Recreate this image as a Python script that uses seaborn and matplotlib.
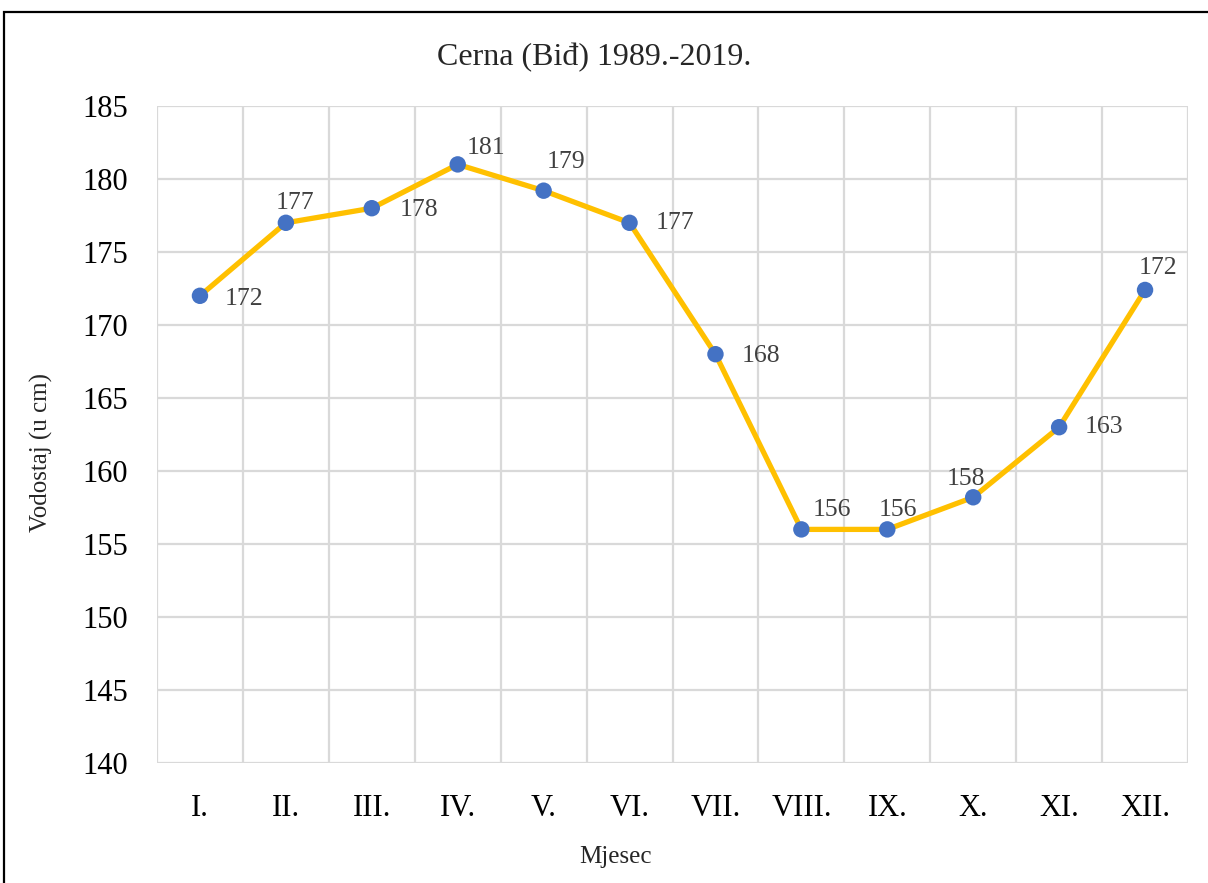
import matplotlib
matplotlib.use("Agg")
import matplotlib.pyplot as plt
import seaborn as sns
import pandas as pd
from matplotlib.patches import Rectangle

# ---- data ----
months = ["I.", "II.", "III.", "IV.", "V.", "VI.", "VII.", "VIII.", "IX.", "X.", "XI.", "XII."]
levels = [172, 177, 178, 181, 179.2, 177, 168, 156, 156, 158.2, 163, 172.4]
labels = ["172", "177", "178", "181", "179", "177", "168", "156", "156", "158", "163", "172"]
yticks = [140, 145, 150, 155, 160, 165, 170, 175, 180, 185]

title = "Cerna (Biđ) 1989.-2019."
xlabel = "Mjesec"
ylabel = "Vodostaj (u cm)"

# label offsets in points (style only)
label_offsets = [(32, -2), (6.5, 14), (34, -1.5), (20, 11.5), (16, 21), (33, 0),
                 (33, -1), (22, 14), (8, 14), (-5, 13), (32, 0), (9, 16)]

sns.set_theme(style="white")
plt.rcParams["font.family"] = ["Liberation Serif", "DejaVu Serif"]

df = pd.DataFrame({"pos": range(len(months)), "month": months, "level": levels})

fig = plt.figure(figsize=(12.08, 8.83), dpi=100)
ax = fig.add_axes([157/1208, 1 - 763/883, (1188-157)/1208, (763-106)/883])

sns.lineplot(data=df, x="pos", y="level", color="#FFC000", linewidth=3.8, ax=ax,
             zorder=3, solid_capstyle="round", solid_joinstyle="round")
sns.scatterplot(data=df, x="pos", y="level", color="#4472C4", s=140, edgecolor="none",
                ax=ax, zorder=4)

for (x, y, t, off) in zip(df["pos"], df["level"], labels, label_offsets):
    ax.annotate(t, (x, y), xytext=off, textcoords="offset points",
                ha="center", va="center", fontsize=18.5, color="#404040", zorder=5)

ax.set_xlim(-0.5, len(months) - 0.5)
ax.set_ylim(yticks[0], yticks[-1])
ax.set_yticks(yticks)
ax.set_yticklabels([str(v) for v in yticks], fontsize=22, color="black")
ax.set_xticks(range(len(months)))
ax.set_xticklabels(months, fontsize=22, color="black")
ax.set_xticks([i + 0.5 for i in range(-1, len(months))], minor=True)
ax.tick_params(axis="both", which="both", length=0)
ax.tick_params(axis="y", pad=21)
ax.tick_params(axis="x", pad=22)

ax.grid(False)
ax.yaxis.grid(True, color="#D9D9D9", linewidth=1.6)
ax.xaxis.grid(True, which="minor", color="#D9D9D9", linewidth=1.6)
for s in ax.spines.values():
    s.set_visible(False)

ax.set_xlabel(xlabel, fontsize=18)
ax.xaxis.set_label_coords((615 - 157) / 1031, -0.126)
ax.set_ylabel(ylabel, fontsize=18)
ax.yaxis.set_label_coords(-(157 - 53) / 1031, (763 - 453) / 657)
fig.text(594/1208, 1 - 58/883, title, ha="center", va="center", fontsize=23)

fig.patches.append(Rectangle((4/1208, -0.1), 1.2, 1 - 12/883 + 0.1, transform=fig.transFigure,
                             fill=False, edgecolor="black", linewidth=1.6))

fig.savefig("out.png", dpi=100)
